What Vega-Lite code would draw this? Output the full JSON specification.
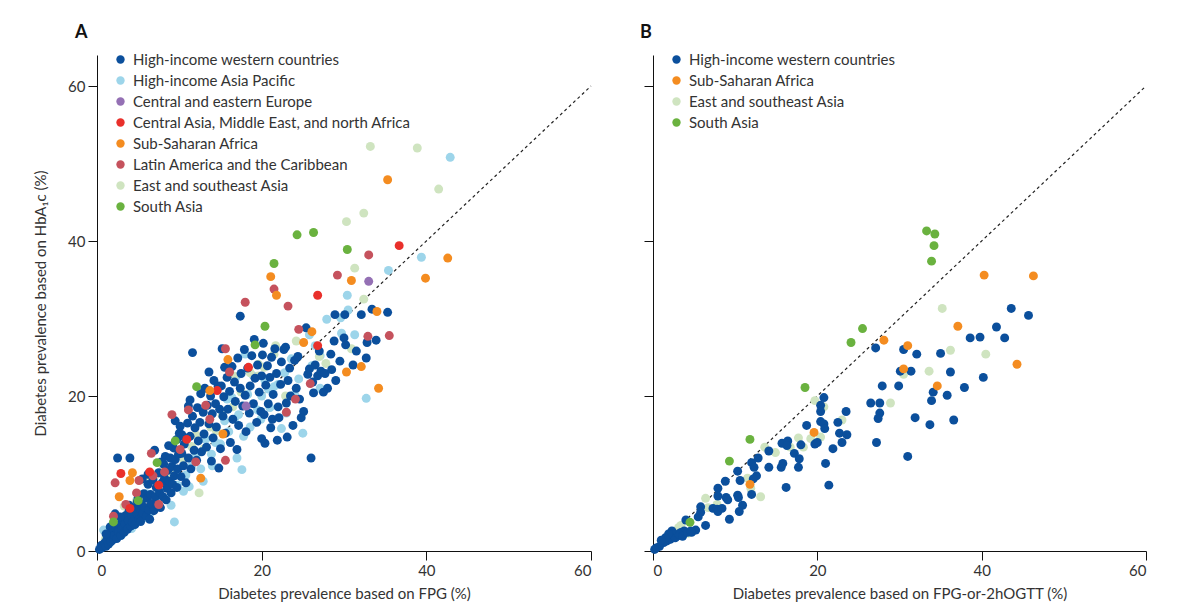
{
  "$schema": "https://vega.github.io/schema/vega-lite/v6.json",
  "background": "white",
  "padding": {"left": 33, "top": 24, "right": 5, "bottom": 5},
  "spacing": 48,
  "config": {
    "font": "Lato",
    "view": {"stroke": null},
    "axis": {"grid": false, "domainColor": "#111", "tickColor": "#111", "tickSize": 9, "labelFontSize": 15, "labelColor": "#333", "titleFontSize": 15, "titleFontWeight": "normal", "titleColor": "#333", "labelPadding": 3, "domainWidth": 1, "tickWidth": 1},
    "legend": {"labelFontSize": 15, "labelColor": "#333", "labelLimit": 0, "symbolType": "circle", "symbolSize": 70, "symbolStrokeWidth": 0, "rowPadding": 5, "labelOffset": 5, "padding": 0},
    "title": {"fontSize": 18, "fontWeight": "bold", "anchor": "start", "frame": "group", "color": "#111", "offset": 10}
  },
  "datasets": {
    "a": [
      {"x":0.8,"y":2.7,"g":"HIAP"},{"x":1.5,"y":1.0,"g":"HIAP"},{"x":2.2,"y":2.0,"g":"HIAP"},{"x":3.0,"y":2.1,"g":"HIAP"},{"x":3.6,"y":4.6,"g":"HIAP"},{"x":4.2,"y":2.9,"g":"HIAP"},{"x":5.0,"y":6.0,"g":"HIAP"},{"x":5.8,"y":4.3,"g":"HIAP"},{"x":6.5,"y":5.0,"g":"HIAP"},{"x":7.0,"y":5.7,"g":"HIAP"},{"x":7.5,"y":7.8,"g":"HIAP"},{"x":8.2,"y":6.8,"g":"HIAP"},{"x":9.0,"y":5.9,"g":"HIAP"},{"x":9.4,"y":3.75,"g":"HIAP"},{"x":10.5,"y":7.7,"g":"HIAP"},{"x":9.8,"y":8.5,"g":"HIAP"},{"x":10.8,"y":9.8,"g":"HIAP"},{"x":11.5,"y":11.0,"g":"HIAP"},{"x":12.0,"y":12.3,"g":"HIAP"},{"x":12.6,"y":10.6,"g":"HIAP"},{"x":13.2,"y":14.4,"g":"HIAP"},{"x":13.9,"y":12.5,"g":"HIAP"},{"x":14.4,"y":14.0,"g":"HIAP"},{"x":15.0,"y":13.8,"g":"HIAP"},{"x":15.8,"y":19.6,"g":"HIAP"},{"x":16.4,"y":19.8,"g":"HIAP"},{"x":16.0,"y":15.4,"g":"HIAP"},{"x":16.7,"y":17.0,"g":"HIAP"},{"x":17.2,"y":17.6,"g":"HIAP"},{"x":17.6,"y":10.5,"g":"HIAP"},{"x":17.0,"y":12.0,"g":"HIAP"},{"x":17.8,"y":14.8,"g":"HIAP"},{"x":18.0,"y":25.4,"g":"HIAP"},{"x":18.3,"y":20.2,"g":"HIAP"},{"x":18.6,"y":16.0,"g":"HIAP"},{"x":19.0,"y":22.6,"g":"HIAP"},{"x":19.5,"y":18.2,"g":"HIAP"},{"x":20.0,"y":20.0,"g":"HIAP"},{"x":20.4,"y":22.0,"g":"HIAP"},{"x":20.8,"y":20.9,"g":"HIAP"},{"x":21.5,"y":21.2,"g":"HIAP"},{"x":22.0,"y":21.5,"g":"HIAP"},{"x":22.4,"y":15.8,"g":"HIAP"},{"x":22.8,"y":23.0,"g":"HIAP"},{"x":23.6,"y":24.8,"g":"HIAP"},{"x":24.5,"y":22.2,"g":"HIAP"},{"x":25.0,"y":15.2,"g":"HIAP"},{"x":25.8,"y":27.9,"g":"HIAP"},{"x":26.1,"y":23.9,"g":"HIAP"},{"x":27.1,"y":25.2,"g":"HIAP"},{"x":27.1,"y":21.0,"g":"HIAP"},{"x":27.9,"y":29.9,"g":"HIAP"},{"x":29.6,"y":30.1,"g":"HIAP"},{"x":29.7,"y":28.1,"g":"HIAP"},{"x":30.5,"y":31.1,"g":"HIAP"},{"x":30.4,"y":33.0,"g":"HIAP"},{"x":31.3,"y":27.9,"g":"HIAP"},{"x":32.7,"y":19.7,"g":"HIAP"},{"x":35.4,"y":36.2,"g":"HIAP"},{"x":39.4,"y":37.9,"g":"HIAP"},{"x":42.9,"y":50.8,"g":"HIAP"},{"x":12.9,"y":9.0,"g":"HIAP"},{"x":14.0,"y":11.0,"g":"HIAP"},{"x":8.5,"y":9.6,"g":"HIAP"},{"x":6.0,"y":7.4,"g":"HIAP"},{"x":19.9,"y":17.0,"g":"HIAP"},{"x":21.0,"y":18.5,"g":"HIAP"},{"x":26.5,"y":26.5,"g":"HIAP"},{"x":24.0,"y":20.2,"g":"HIAP"},{"x":23.0,"y":17.8,"g":"HIAP"},{"x":15.5,"y":16.8,"g":"HIAP"},{"x":11.2,"y":8.3,"g":"HIAP"},{"x":4.6,"y":5.2,"g":"HIAP"},{"x":16.9,"y":22.5,"g":"HIAP"},
      {"x":1.0,"y":1.5,"g":"ESEA"},{"x":2.6,"y":4.0,"g":"ESEA"},{"x":3.3,"y":5.8,"g":"ESEA"},{"x":4.8,"y":6.5,"g":"ESEA"},{"x":6.0,"y":9.0,"g":"ESEA"},{"x":7.2,"y":9.9,"g":"ESEA"},{"x":9.1,"y":10.7,"g":"ESEA"},{"x":9.0,"y":9.4,"g":"ESEA"},{"x":10.5,"y":11.9,"g":"ESEA"},{"x":11.5,"y":13.5,"g":"ESEA"},{"x":12.4,"y":7.5,"g":"ESEA"},{"x":12.0,"y":15.0,"g":"ESEA"},{"x":13.0,"y":13.2,"g":"ESEA"},{"x":13.8,"y":16.0,"g":"ESEA"},{"x":14.5,"y":15.5,"g":"ESEA"},{"x":16.5,"y":18.6,"g":"ESEA"},{"x":16.6,"y":22.6,"g":"ESEA"},{"x":18.6,"y":23.0,"g":"ESEA"},{"x":19.6,"y":22.6,"g":"ESEA"},{"x":19.6,"y":24.1,"g":"ESEA"},{"x":20.3,"y":23.7,"g":"ESEA"},{"x":21.5,"y":25.4,"g":"ESEA"},{"x":21.7,"y":26.5,"g":"ESEA"},{"x":22.9,"y":20.0,"g":"ESEA"},{"x":24.2,"y":27.1,"g":"ESEA"},{"x":27.0,"y":25.1,"g":"ESEA"},{"x":27.8,"y":24.2,"g":"ESEA"},{"x":30.9,"y":26.1,"g":"ESEA"},{"x":31.3,"y":36.5,"g":"ESEA"},{"x":30.3,"y":42.5,"g":"ESEA"},{"x":32.4,"y":43.6,"g":"ESEA"},{"x":32.4,"y":32.5,"g":"ESEA"},{"x":33.2,"y":52.2,"g":"ESEA"},{"x":38.9,"y":52.0,"g":"ESEA"},{"x":41.5,"y":46.7,"g":"ESEA"},{"x":15.2,"y":17.5,"g":"ESEA"},{"x":8.0,"y":10.5,"g":"ESEA"},{"x":5.5,"y":7.3,"g":"ESEA"},{"x":17.5,"y":20.5,"g":"ESEA"},
      {"x":0.3,"y":0.2,"g":"HIW"},{"x":0.5,"y":0.7,"g":"HIW"},{"x":0.6,"y":0.4,"g":"HIW"},{"x":0.9,"y":1.0,"g":"HIW"},{"x":1.1,"y":0.6,"g":"HIW"},{"x":1.2,"y":1.5,"g":"HIW"},{"x":1.4,"y":0.9,"g":"HIW"},{"x":1.5,"y":1.9,"g":"HIW"},{"x":1.7,"y":1.2,"g":"HIW"},{"x":1.8,"y":2.4,"g":"HIW"},{"x":2.0,"y":1.5,"g":"HIW"},{"x":2.1,"y":2.0,"g":"HIW"},{"x":2.3,"y":2.9,"g":"HIW"},{"x":2.4,"y":1.6,"g":"HIW"},{"x":2.6,"y":2.5,"g":"HIW"},{"x":2.7,"y":3.4,"g":"HIW"},{"x":2.9,"y":2.0,"g":"HIW"},{"x":3.0,"y":2.8,"g":"HIW"},{"x":3.1,"y":4.1,"g":"HIW"},{"x":3.3,"y":2.4,"g":"HIW"},{"x":3.4,"y":3.5,"g":"HIW"},{"x":3.5,"y":4.6,"g":"HIW"},{"x":3.7,"y":2.8,"g":"HIW"},{"x":3.8,"y":3.9,"g":"HIW"},{"x":3.9,"y":5.2,"g":"HIW"},{"x":4.1,"y":3.2,"g":"HIW"},{"x":4.2,"y":4.5,"g":"HIW"},{"x":4.3,"y":3.7,"g":"HIW"},{"x":4.5,"y":5.6,"g":"HIW"},{"x":4.6,"y":3.4,"g":"HIW"},{"x":4.8,"y":4.9,"g":"HIW"},{"x":4.9,"y":6.4,"g":"HIW"},{"x":5.1,"y":4.1,"g":"HIW"},{"x":5.2,"y":5.5,"g":"HIW"},{"x":5.0,"y":6.9,"g":"HIW"},{"x":2.2,"y":4.8,"g":"HIW"},{"x":1.6,"y":3.1,"g":"HIW"},{"x":2.8,"y":4.4,"g":"HIW"},{"x":3.9,"y":5.9,"g":"HIW"},{"x":1.1,"y":2.2,"g":"HIW"},
      {"x":5.3,"y":3.8,"g":"HIW"},{"x":5.4,"y":6.1,"g":"HIW"},{"x":5.6,"y":4.9,"g":"HIW"},{"x":5.7,"y":7.4,"g":"HIW"},{"x":5.8,"y":5.6,"g":"HIW"},{"x":6.0,"y":4.5,"g":"HIW"},{"x":6.1,"y":6.8,"g":"HIW"},{"x":6.2,"y":8.6,"g":"HIW"},{"x":6.3,"y":5.3,"g":"HIW"},{"x":6.4,"y":4.1,"g":"HIW"},{"x":6.5,"y":7.3,"g":"HIW"},{"x":6.6,"y":6.1,"g":"HIW"},{"x":6.8,"y":9.2,"g":"HIW"},{"x":6.9,"y":5.2,"g":"HIW"},{"x":7.0,"y":13.0,"g":"HIW"},{"x":7.1,"y":7.0,"g":"HIW"},{"x":7.2,"y":8.2,"g":"HIW"},{"x":7.3,"y":6.0,"g":"HIW"},{"x":7.5,"y":10.1,"g":"HIW"},{"x":7.6,"y":7.6,"g":"HIW"},{"x":7.7,"y":5.6,"g":"HIW"},{"x":7.9,"y":8.8,"g":"HIW"},{"x":8.0,"y":7.0,"g":"HIW"},{"x":8.1,"y":11.2,"g":"HIW"},{"x":8.2,"y":9.4,"g":"HIW"},{"x":8.3,"y":12.2,"g":"HIW"},{"x":8.4,"y":6.6,"g":"HIW"},{"x":8.5,"y":8.1,"g":"HIW"},{"x":8.6,"y":10.4,"g":"HIW"},{"x":8.8,"y":9.0,"g":"HIW"},{"x":8.9,"y":12.0,"g":"HIW"},{"x":9.0,"y":7.5,"g":"HIW"},{"x":9.1,"y":10.9,"g":"HIW"},{"x":9.2,"y":8.6,"g":"HIW"},{"x":9.3,"y":13.3,"g":"HIW"},{"x":9.4,"y":9.7,"g":"HIW"},{"x":9.5,"y":16.8,"g":"HIW"},{"x":9.5,"y":11.8,"g":"HIW"},{"x":9.7,"y":14.4,"g":"HIW"},{"x":9.7,"y":8.2,"g":"HIW"},{"x":9.8,"y":10.6,"g":"HIW"},{"x":9.9,"y":12.5,"g":"HIW"},{"x":10.0,"y":15.2,"g":"HIW"},{"x":4.0,"y":12.0,"g":"HIW"},{"x":2.5,"y":12.0,"g":"HIW"},{"x":5.5,"y":9.3,"g":"HIW"},{"x":6.2,"y":9.9,"g":"HIW"},{"x":7.8,"y":11.5,"g":"HIW"},{"x":8.7,"y":13.6,"g":"HIW"},
      {"x":10.1,"y":16.1,"g":"HIW"},{"x":10.2,"y":9.6,"g":"HIW"},{"x":10.3,"y":12.6,"g":"HIW"},{"x":10.3,"y":15.0,"g":"HIW"},{"x":10.5,"y":11.0,"g":"HIW"},{"x":10.6,"y":13.8,"g":"HIW"},{"x":10.7,"y":14.6,"g":"HIW"},{"x":10.8,"y":8.8,"g":"HIW"},{"x":11.0,"y":16.5,"g":"HIW"},{"x":11.1,"y":18.7,"g":"HIW"},{"x":11.1,"y":12.0,"g":"HIW"},{"x":11.3,"y":19.5,"g":"HIW"},{"x":11.3,"y":14.8,"g":"HIW"},{"x":11.4,"y":10.6,"g":"HIW"},{"x":11.6,"y":25.6,"g":"HIW"},{"x":11.6,"y":17.4,"g":"HIW"},{"x":11.8,"y":13.0,"g":"HIW"},{"x":11.9,"y":15.9,"g":"HIW"},{"x":12.1,"y":11.7,"g":"HIW"},{"x":12.2,"y":18.5,"g":"HIW"},{"x":12.3,"y":14.2,"g":"HIW"},{"x":12.5,"y":16.6,"g":"HIW"},{"x":12.6,"y":20.3,"g":"HIW"},{"x":12.7,"y":12.8,"g":"HIW"},{"x":12.9,"y":17.9,"g":"HIW"},{"x":13.0,"y":15.1,"g":"HIW"},{"x":13.1,"y":21.0,"g":"HIW"},{"x":13.3,"y":13.4,"g":"HIW"},{"x":13.4,"y":18.8,"g":"HIW"},{"x":13.6,"y":23.1,"g":"HIW"},{"x":13.6,"y":16.4,"g":"HIW"},{"x":13.8,"y":20.0,"g":"HIW"},{"x":13.9,"y":11.6,"g":"HIW"},{"x":14.0,"y":17.7,"g":"HIW"},{"x":14.1,"y":14.6,"g":"HIW"},{"x":14.2,"y":22.0,"g":"HIW"},{"x":14.4,"y":19.0,"g":"HIW"},{"x":14.5,"y":16.0,"g":"HIW"},{"x":14.7,"y":21.3,"g":"HIW"},{"x":14.8,"y":10.7,"g":"HIW"},{"x":14.9,"y":18.3,"g":"HIW"},{"x":15.0,"y":13.2,"g":"HIW"},{"x":15.2,"y":26.1,"g":"HIW"},{"x":15.5,"y":23.7,"g":"HIW"},
      {"x":15.1,"y":21.3,"g":"HIW"},{"x":15.3,"y":17.4,"g":"HIW"},{"x":15.4,"y":19.9,"g":"HIW"},{"x":15.6,"y":15.2,"g":"HIW"},{"x":15.8,"y":22.4,"g":"HIW"},{"x":15.9,"y":18.3,"g":"HIW"},{"x":16.1,"y":20.6,"g":"HIW"},{"x":16.2,"y":14.0,"g":"HIW"},{"x":16.4,"y":23.8,"g":"HIW"},{"x":16.5,"y":17.0,"g":"HIW"},{"x":16.7,"y":21.8,"g":"HIW"},{"x":16.8,"y":19.3,"g":"HIW"},{"x":17.0,"y":13.1,"g":"HIW"},{"x":17.1,"y":24.9,"g":"HIW"},{"x":17.2,"y":16.2,"g":"HIW"},{"x":17.4,"y":30.3,"g":"HIW"},{"x":17.4,"y":21.0,"g":"HIW"},{"x":17.5,"y":22.9,"g":"HIW"},{"x":17.7,"y":18.7,"g":"HIW"},{"x":17.9,"y":26.0,"g":"HIW"},{"x":18.0,"y":20.1,"g":"HIW"},{"x":18.1,"y":15.4,"g":"HIW"},{"x":18.3,"y":23.6,"g":"HIW"},{"x":18.5,"y":17.8,"g":"HIW"},{"x":18.6,"y":21.3,"g":"HIW"},{"x":18.8,"y":25.2,"g":"HIW"},{"x":19.0,"y":19.0,"g":"HIW"},{"x":19.1,"y":27.3,"g":"HIW"},{"x":19.2,"y":22.3,"g":"HIW"},{"x":19.4,"y":16.6,"g":"HIW"},{"x":19.5,"y":24.0,"g":"HIW"},{"x":19.7,"y":20.5,"g":"HIW"},{"x":19.9,"y":18.0,"g":"HIW"},{"x":20.0,"y":14.5,"g":"HIW"},{"x":20.0,"y":22.6,"g":"HIW"},
      {"x":20.1,"y":25.3,"g":"HIW"},{"x":20.2,"y":26.8,"g":"HIW"},{"x":20.3,"y":17.6,"g":"HIW"},{"x":20.4,"y":13.9,"g":"HIW"},{"x":20.5,"y":21.4,"g":"HIW"},{"x":20.7,"y":23.9,"g":"HIW"},{"x":20.8,"y":19.0,"g":"HIW"},{"x":21.0,"y":22.4,"g":"HIW"},{"x":21.1,"y":15.9,"g":"HIW"},{"x":21.2,"y":25.0,"g":"HIW"},{"x":21.3,"y":17.0,"g":"HIW"},{"x":21.4,"y":20.2,"g":"HIW"},{"x":21.6,"y":26.1,"g":"HIW"},{"x":21.8,"y":22.9,"g":"HIW"},{"x":21.9,"y":14.3,"g":"HIW"},{"x":22.0,"y":18.6,"g":"HIW"},{"x":22.1,"y":17.2,"g":"HIW"},{"x":22.3,"y":21.5,"g":"HIW"},{"x":22.4,"y":24.4,"g":"HIW"},{"x":22.7,"y":26.0,"g":"HIW"},{"x":22.9,"y":26.3,"g":"HIW"},{"x":23.0,"y":19.1,"g":"HIW"},{"x":23.1,"y":14.7,"g":"HIW"},{"x":23.2,"y":22.0,"g":"HIW"},{"x":23.4,"y":23.6,"g":"HIW"},{"x":23.5,"y":20.0,"g":"HIW"},{"x":23.8,"y":16.2,"g":"HIW"},{"x":24.0,"y":24.6,"g":"HIW"},{"x":24.2,"y":21.0,"g":"HIW"},{"x":24.4,"y":25.1,"g":"HIW"},{"x":24.6,"y":19.6,"g":"HIW"},{"x":25.1,"y":18.0,"g":"HIW"},{"x":25.4,"y":28.8,"g":"HIW"},{"x":25.6,"y":22.8,"g":"HIW"},{"x":26.0,"y":12.0,"g":"HIW"},{"x":26.2,"y":21.8,"g":"HIW"},{"x":26.3,"y":20.4,"g":"HIW"},
      {"x":26.5,"y":24.0,"g":"HIW"},{"x":26.8,"y":22.6,"g":"HIW"},{"x":27.0,"y":25.8,"g":"HIW"},{"x":27.2,"y":23.2,"g":"HIW"},{"x":27.7,"y":22.9,"g":"HIW"},{"x":28.0,"y":21.0,"g":"HIW"},{"x":28.4,"y":25.4,"g":"HIW"},{"x":28.5,"y":23.4,"g":"HIW"},{"x":28.8,"y":27.1,"g":"HIW"},{"x":28.9,"y":30.5,"g":"HIW"},{"x":29.5,"y":24.5,"g":"HIW"},{"x":30.0,"y":27.5,"g":"HIW"},{"x":30.1,"y":30.5,"g":"HIW"},{"x":30.2,"y":26.6,"g":"HIW"},{"x":31.1,"y":24.0,"g":"HIW"},{"x":32.1,"y":30.5,"g":"HIW"},{"x":32.7,"y":24.9,"g":"HIW"},{"x":32.8,"y":26.9,"g":"HIW"},{"x":33.4,"y":31.2,"g":"HIW"},{"x":33.9,"y":27.2,"g":"HIW"},{"x":35.3,"y":30.8,"g":"HIW"},{"x":29.0,"y":22.0,"g":"HIW"},{"x":31.5,"y":25.8,"g":"HIW"},{"x":27.5,"y":20.5,"g":"HIW"},{"x":25.8,"y":23.5,"g":"HIW"},{"x":24.8,"y":17.2,"g":"HIW"},
      {"x":2.2,"y":8.8,"g":"LAC"},{"x":2.0,"y":4.5,"g":"LAC"},{"x":4.8,"y":7.5,"g":"LAC"},{"x":5.1,"y":9.1,"g":"LAC"},{"x":6.6,"y":12.6,"g":"LAC"},{"x":6.8,"y":9.7,"g":"LAC"},{"x":8.2,"y":10.2,"g":"LAC"},{"x":9.1,"y":17.6,"g":"LAC"},{"x":10.1,"y":13.1,"g":"LAC"},{"x":11.1,"y":18.2,"g":"LAC"},{"x":13.2,"y":18.8,"g":"LAC"},{"x":13.7,"y":17.0,"g":"LAC"},{"x":15.6,"y":11.7,"g":"LAC"},{"x":15.6,"y":26.1,"g":"LAC"},{"x":16.1,"y":23.1,"g":"LAC"},{"x":18.0,"y":32.1,"g":"LAC"},{"x":21.5,"y":33.8,"g":"LAC"},{"x":23.0,"y":17.9,"g":"LAC"},{"x":23.2,"y":31.6,"g":"LAC"},{"x":24.1,"y":19.6,"g":"LAC"},{"x":24.5,"y":28.6,"g":"LAC"},{"x":25.9,"y":21.6,"g":"LAC"},{"x":29.2,"y":35.6,"g":"LAC"},{"x":33.0,"y":38.2,"g":"LAC"},{"x":32.9,"y":27.7,"g":"LAC"},{"x":35.5,"y":27.8,"g":"LAC"},{"x":3.5,"y":6.0,"g":"LAC"},{"x":12.0,"y":11.5,"g":"LAC"},{"x":7.5,"y":6.0,"g":"LAC"},
      {"x":2.9,"y":10.0,"g":"CAME"},{"x":6.4,"y":10.2,"g":"CAME"},{"x":10.9,"y":14.4,"g":"CAME"},{"x":14.6,"y":20.7,"g":"CAME"},{"x":18.4,"y":23.7,"g":"CAME"},{"x":26.8,"y":26.5,"g":"CAME"},{"x":26.8,"y":33.0,"g":"CAME"},{"x":36.7,"y":39.4,"g":"CAME"},{"x":4.0,"y":5.5,"g":"CAME"},{"x":7.5,"y":8.5,"g":"CAME"},
      {"x":2.7,"y":7.0,"g":"SSA"},{"x":4.3,"y":10.1,"g":"SSA"},{"x":4.0,"y":9.1,"g":"SSA"},{"x":12.6,"y":9.4,"g":"SSA"},{"x":13.7,"y":20.7,"g":"SSA"},{"x":15.3,"y":15.1,"g":"SSA"},{"x":15.9,"y":24.7,"g":"SSA"},{"x":21.1,"y":35.4,"g":"SSA"},{"x":21.8,"y":33.0,"g":"SSA"},{"x":25.1,"y":26.9,"g":"SSA"},{"x":26.1,"y":28.3,"g":"SSA"},{"x":30.3,"y":23.1,"g":"SSA"},{"x":30.9,"y":34.9,"g":"SSA"},{"x":32.1,"y":23.8,"g":"SSA"},{"x":34.0,"y":30.9,"g":"SSA"},{"x":34.2,"y":21.0,"g":"SSA"},{"x":35.3,"y":47.9,"g":"SSA"},{"x":39.9,"y":35.2,"g":"SSA"},{"x":42.6,"y":37.8,"g":"SSA"},
      {"x":2.0,"y":3.75,"g":"SA"},{"x":7.3,"y":11.4,"g":"SA"},{"x":9.5,"y":14.2,"g":"SA"},{"x":12.1,"y":21.2,"g":"SA"},{"x":19.2,"y":26.6,"g":"SA"},{"x":20.4,"y":29.0,"g":"SA"},{"x":21.5,"y":37.1,"g":"SA"},{"x":24.3,"y":40.8,"g":"SA"},{"x":26.3,"y":41.1,"g":"SA"},{"x":30.4,"y":38.9,"g":"SA"},{"x":5.0,"y":6.5,"g":"SA"},
      {"x":33.0,"y":34.8,"g":"CEE"},{"x":18.1,"y":18.7,"g":"CEE"}
    ],
    "b": [
      {"x":35.2,"y":31.3,"g":"ESEA"},{"x":36.2,"y":25.9,"g":"ESEA"},{"x":40.5,"y":25.4,"g":"ESEA"},{"x":33.6,"y":23.2,"g":"ESEA"},{"x":30.5,"y":22.8,"g":"ESEA"},{"x":28.9,"y":19.1,"g":"ESEA"},{"x":19.7,"y":19.4,"g":"ESEA"},{"x":20.8,"y":18.6,"g":"ESEA"},{"x":23.0,"y":16.9,"g":"ESEA"},{"x":17.7,"y":14.6,"g":"ESEA"},{"x":19.2,"y":14.5,"g":"ESEA"},{"x":18.3,"y":13.4,"g":"ESEA"},{"x":13.6,"y":13.4,"g":"ESEA"},{"x":14.9,"y":12.7,"g":"ESEA"},{"x":16.7,"y":13.4,"g":"ESEA"},{"x":20.4,"y":14.7,"g":"ESEA"},{"x":11.5,"y":9.4,"g":"ESEA"},{"x":11.9,"y":8.1,"g":"ESEA"},{"x":13.1,"y":7.0,"g":"ESEA"},{"x":6.4,"y":6.8,"g":"ESEA"},{"x":7.8,"y":6.0,"g":"ESEA"},{"x":6.7,"y":5.6,"g":"ESEA"},{"x":3.4,"y":3.3,"g":"ESEA"},{"x":3.1,"y":3.0,"g":"ESEA"},{"x":4.3,"y":2.3,"g":"ESEA"},
      {"x":43.6,"y":31.3,"g":"HIW"},{"x":45.7,"y":30.4,"g":"HIW"},{"x":41.8,"y":28.9,"g":"HIW"},{"x":42.8,"y":27.5,"g":"HIW"},{"x":38.6,"y":27.5,"g":"HIW"},{"x":39.8,"y":27.6,"g":"HIW"},{"x":27.1,"y":26.2,"g":"HIW"},{"x":30.5,"y":26.0,"g":"HIW"},{"x":32.1,"y":25.4,"g":"HIW"},{"x":35.0,"y":25.5,"g":"HIW"},{"x":30.1,"y":23.2,"g":"HIW"},{"x":31.4,"y":23.2,"g":"HIW"},{"x":36.2,"y":23.1,"g":"HIW"},{"x":40.2,"y":22.4,"g":"HIW"},{"x":37.9,"y":21.1,"g":"HIW"},{"x":27.9,"y":21.3,"g":"HIW"},{"x":29.9,"y":21.3,"g":"HIW"},{"x":34.1,"y":20.5,"g":"HIW"},{"x":35.8,"y":20.1,"g":"HIW"},{"x":33.9,"y":19.4,"g":"HIW"},{"x":26.5,"y":19.1,"g":"HIW"},{"x":27.6,"y":19.1,"g":"HIW"},{"x":20.8,"y":19.8,"g":"HIW"},{"x":20.4,"y":18.8,"g":"HIW"},{"x":20.4,"y":18.0,"g":"HIW"},{"x":23.5,"y":18.0,"g":"HIW"},{"x":27.6,"y":17.8,"g":"HIW"},{"x":27.4,"y":17.1,"g":"HIW"},{"x":31.9,"y":17.2,"g":"HIW"},{"x":36.6,"y":16.9,"g":"HIW"},{"x":33.7,"y":16.3,"g":"HIW"},{"x":22.5,"y":16.6,"g":"HIW"},{"x":20.4,"y":16.7,"g":"HIW"},{"x":20.8,"y":16.4,"g":"HIW"},{"x":20.9,"y":15.8,"g":"HIW"},{"x":18.7,"y":16.2,"g":"HIW"},{"x":22.7,"y":15.2,"g":"HIW"},{"x":23.6,"y":15.0,"g":"HIW"},{"x":23.0,"y":14.0,"g":"HIW"},{"x":27.2,"y":14.0,"g":"HIW"},{"x":21.9,"y":13.2,"g":"HIW"},{"x":19.7,"y":13.8,"g":"HIW"},{"x":20.0,"y":14.0,"g":"HIW"},{"x":18.0,"y":13.7,"g":"HIW"},{"x":15.7,"y":13.9,"g":"HIW"},{"x":16.4,"y":14.2,"g":"HIW"},{"x":16.3,"y":13.6,"g":"HIW"},{"x":17.2,"y":12.6,"g":"HIW"},{"x":17.8,"y":11.9,"g":"HIW"},{"x":17.7,"y":10.8,"g":"HIW"},{"x":14.1,"y":12.9,"g":"HIW"},{"x":14.1,"y":10.8,"g":"HIW"},{"x":15.6,"y":10.8,"g":"HIW"},{"x":15.8,"y":11.3,"g":"HIW"},{"x":21.0,"y":11.3,"g":"HIW"},{"x":21.4,"y":8.5,"g":"HIW"},{"x":16.2,"y":8.2,"g":"HIW"},{"x":31.0,"y":12.2,"g":"HIW"},{"x":12.8,"y":12.0,"g":"HIW"},{"x":12.0,"y":11.4,"g":"HIW"},{"x":12.3,"y":10.8,"g":"HIW"},{"x":12.6,"y":9.7,"g":"HIW"},{"x":12.2,"y":9.3,"g":"HIW"},{"x":12.0,"y":7.3,"g":"HIW"},{"x":10.3,"y":10.3,"g":"HIW"},{"x":10.6,"y":9.1,"g":"HIW"},{"x":10.3,"y":7.2,"g":"HIW"},{"x":10.4,"y":6.9,"g":"HIW"},{"x":10.9,"y":5.9,"g":"HIW"},{"x":10.5,"y":5.1,"g":"HIW"},{"x":9.3,"y":4.1,"g":"HIW"},{"x":8.8,"y":9.0,"g":"HIW"},{"x":7.9,"y":8.1,"g":"HIW"},{"x":7.9,"y":7.1,"g":"HIW"},{"x":8.9,"y":6.9,"g":"HIW"},{"x":9.1,"y":6.6,"g":"HIW"},{"x":7.3,"y":5.5,"g":"HIW"},{"x":7.8,"y":5.4,"g":"HIW"},{"x":7.9,"y":5.1,"g":"HIW"},{"x":8.4,"y":5.5,"g":"HIW"},{"x":5.8,"y":5.7,"g":"HIW"},{"x":5.8,"y":5.0,"g":"HIW"},{"x":5.5,"y":4.4,"g":"HIW"},{"x":6.4,"y":3.3,"g":"HIW"},{"x":5.2,"y":2.7,"g":"HIW"},{"x":4.7,"y":2.4,"g":"HIW"},{"x":4.0,"y":4.0,"g":"HIW"},{"x":3.8,"y":2.6,"g":"HIW"},{"x":3.4,"y":2.4,"g":"HIW"},{"x":2.9,"y":1.9,"g":"HIW"},{"x":2.5,"y":1.9,"g":"HIW"},{"x":2.1,"y":1.5,"g":"HIW"},{"x":1.7,"y":1.3,"g":"HIW"},{"x":1.3,"y":1.1,"g":"HIW"},{"x":0.8,"y":0.6,"g":"HIW"},{"x":0.4,"y":0.4,"g":"HIW"},{"x":0.2,"y":0.2,"g":"HIW"},{"x":2.7,"y":1.7,"g":"HIW"},{"x":3.1,"y":2.2,"g":"HIW"},{"x":2.3,"y":2.6,"g":"HIW"},{"x":1.9,"y":2.2,"g":"HIW"},{"x":1.5,"y":1.7,"g":"HIW"},{"x":1.0,"y":1.4,"g":"HIW"},{"x":3.6,"y":1.9,"g":"HIW"},{"x":4.2,"y":2.4,"g":"HIW"},{"x":4.6,"y":2.6,"g":"HIW"},
      {"x":40.3,"y":35.6,"g":"SSA"},{"x":46.3,"y":35.5,"g":"SSA"},{"x":37.1,"y":29.0,"g":"SSA"},{"x":28.1,"y":27.2,"g":"SSA"},{"x":31.0,"y":26.5,"g":"SSA"},{"x":30.5,"y":23.5,"g":"SSA"},{"x":44.3,"y":24.1,"g":"SSA"},{"x":34.6,"y":21.3,"g":"SSA"},{"x":19.6,"y":15.3,"g":"SSA"},{"x":11.8,"y":8.6,"g":"SSA"},
      {"x":33.3,"y":41.3,"g":"SA"},{"x":34.3,"y":40.9,"g":"SA"},{"x":34.2,"y":39.4,"g":"SA"},{"x":33.9,"y":37.4,"g":"SA"},{"x":25.5,"y":28.7,"g":"SA"},{"x":24.1,"y":26.9,"g":"SA"},{"x":18.5,"y":21.1,"g":"SA"},{"x":11.8,"y":14.4,"g":"SA"},{"x":9.3,"y":11.6,"g":"SA"},{"x":4.5,"y":3.7,"g":"SA"}
    ],
    "identity": [{"x":0,"y":0,"x2":60,"y2":60}]
  },
  "resolve": {"scale": {"color": "independent"}},
  "hconcat": [
    {
      "width": 494,
      "height": 496,
      "title": {"text": "A", "dx": -22},
      "layer": [
        {
          "data": {"name": "identity"},
          "mark": {"type": "rule", "strokeDash": [3, 3], "strokeWidth": 1.2, "color": "#222"},
          "encoding": {
            "x": {"field": "x", "type": "quantitative", "scale": {"domain": [0, 60], "nice": false}},
            "y": {"field": "y", "type": "quantitative", "scale": {"domain": [0, 64], "nice": false}},
            "x2": {"field": "x2"},
            "y2": {"field": "y2"}
          }
        },
        {
          "data": {"name": "a"},
          "mark": {"type": "circle", "size": 80, "opacity": 1},
          "encoding": {
            "x": {"field": "x", "type": "quantitative", "scale": {"domain": [0, 60], "nice": false}, "axis": {"values": [0, 20, 40, 60], "title": "Diabetes prevalence based on FPG (%)", "titlePadding": 8}},
            "y": {"field": "y", "type": "quantitative", "scale": {"domain": [0, 64], "nice": false}, "axis": {"values": [0, 20, 40, 60], "title": "Diabetes prevalence based on HbA₁c (%)", "titlePadding": 19}},
            "color": {
              "field": "g", "type": "nominal",
              "scale": {"domain": ["HIW", "HIAP", "CEE", "CAME", "SSA", "LAC", "ESEA", "SA"], "range": ["#0b4f9c", "#9dd5ea", "#9470b4", "#e9302b", "#f48c20", "#c5525d", "#cfe4c0", "#6ab23f"]},
              "legend": {"title": null, "orient": "none", "legendX": 16, "legendY": -3, "labelExpr": "datum.label == 'HIW' ? 'High-income western countries' : datum.label == 'HIAP' ? 'High-income Asia Pacific' : datum.label == 'CEE' ? 'Central and eastern Europe' : datum.label == 'CAME' ? 'Central Asia, Middle East, and north Africa' : datum.label == 'SSA' ? 'Sub-Saharan Africa' : datum.label == 'LAC' ? 'Latin America and the Caribbean' : datum.label == 'ESEA' ? 'East and southeast Asia' : 'South Asia'"}
            }
          }
        }
      ]
    },
    {
      "width": 493,
      "height": 496,
      "title": {"text": "B", "dx": -13},
      "layer": [
        {
          "data": {"name": "identity"},
          "mark": {"type": "rule", "strokeDash": [3, 3], "strokeWidth": 1.2, "color": "#222"},
          "encoding": {
            "x": {"field": "x", "type": "quantitative", "scale": {"domain": [0, 60], "nice": false}},
            "y": {"field": "y", "type": "quantitative", "scale": {"domain": [0, 64], "nice": false}},
            "x2": {"field": "x2"},
            "y2": {"field": "y2"}
          }
        },
        {
          "data": {"name": "b"},
          "mark": {"type": "circle", "size": 80, "opacity": 1},
          "encoding": {
            "x": {"field": "x", "type": "quantitative", "scale": {"domain": [0, 60], "nice": false}, "axis": {"values": [0, 20, 40, 60], "title": "Diabetes prevalence based on FPG-or-2hOGTT (%)", "titlePadding": 8}},
            "y": {"field": "y", "type": "quantitative", "scale": {"domain": [0, 64], "nice": false}, "axis": {"values": [0, 20, 40, 60], "title": null, "labels": false}},
            "color": {
              "field": "g", "type": "nominal",
              "scale": {"domain": ["HIW", "SSA", "ESEA", "SA"], "range": ["#0b4f9c", "#f48c20", "#cfe4c0", "#6ab23f"]},
              "legend": {"title": null, "orient": "none", "legendX": 16, "legendY": -3, "labelExpr": "datum.label == 'HIW' ? 'High-income western countries' : datum.label == 'SSA' ? 'Sub-Saharan Africa' : datum.label == 'ESEA' ? 'East and southeast Asia' : 'South Asia'"}
            }
          }
        }
      ]
    }
  ]
}
